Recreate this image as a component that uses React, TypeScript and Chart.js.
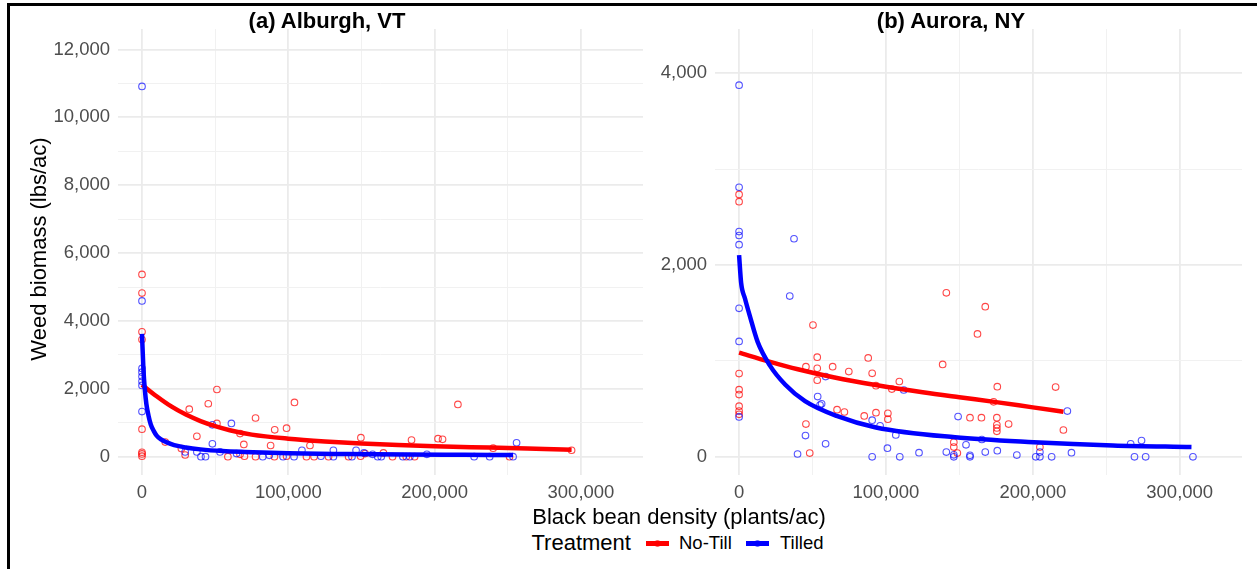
import React, { useEffect, useRef } from "react";
import { Chart, registerables } from "chart.js";

Chart.register(...registerables);

// ---------------- data ----------------
const panelTitles = ["(a) Alburgh, VT", "(b) Aurora, NY"];
const treatments = ["No-Till", "Tilled"];
const xAxisTitle = "Black bean density (plants/ac)";
const yAxisTitle = "Weed biomass (lbs/ac)";
const legendTitle = "Treatment";

// (a) Alburgh, VT — observations
const vtNoTillX = [0, 0, 0, 0, 0, 0, 0, 0, 15900, 26900, 29500, 32300, 37500, 45300, 51200, 51200, 58700, 67000, 67000, 69600, 70000, 77600, 77600, 87900, 90700, 90500, 98800, 98800, 104200, 112400, 114800, 117600, 127500, 141200, 149600, 149400, 152500, 165000, 171200, 180600, 184200, 186300, 202300, 205400, 215900, 240000, 251200, 293600];
const vtNoTillY = [5370, 4820, 3680, 3450, 810, 130, 80, 15, 430, 240, 50, 1400, 600, 1560, 1980, 980, 0, 680, 70, 360, 15, 1140, 0, 330, 790, 0, 840, 15, 1600, 0, 330, 0, 0, 0, 560, 15, 90, 110, 0, 0, 490, 0, 530, 510, 1540, 250, 0, 190];
const vtTilledX = [0, 0, 0, 0, 0, 0, 0, 0, 29500, 37500, 40300, 43400, 48100, 48100, 53300, 61100, 64600, 82500, 87000, 96400, 103900, 109300, 122300, 130800, 130800, 143500, 146300, 151700, 157600, 161100, 163500, 178300, 183000, 194700, 227000, 237600, 253600, 256000];
const vtTilledY = [10910, 4590, 2600, 2490, 2360, 2220, 2100, 1330, 140, 140, 0, 0, 940, 380, 140, 980, 90, 0, 40, 0, 0, 190, 15, 190, 0, 0, 190, 110, 70, 0, 0, 0, 0, 70, 0, 0, 0, 410];
// (a) fitted curves
const vtNoTillFitX = [0, 10000, 20000, 30000, 40000, 50000, 60000, 75000, 100000, 125000, 150000, 175000, 200000, 225000, 250000, 275000, 293600];
const vtNoTillFitY = [2120, 1780, 1480, 1240, 1050, 900, 780, 650, 530, 450, 390, 345, 310, 280, 255, 225, 205];
const vtTilledFitX = [0, 1000, 2000, 3000, 4500, 6000, 8000, 10000, 13000, 17000, 22000, 30000, 40000, 55000, 70000, 100000, 140000, 180000, 220000, 253600];
const vtTilledFitY = [3620, 2550, 1950, 1550, 1200, 950, 760, 620, 510, 420, 340, 270, 215, 165, 138, 100, 78, 64, 55, 48];

// (b) Aurora, NY — observations
const nyNoTillX = [0, 0, 0, 0, 0, 0, 0, 0, 141100, 167600, 50300, 162300, 53200, 45500, 53200, 63700, 74700, 87900, 90600, 138600, 53200, 93200, 109100, 104000, 175800, 173300, 215500, 66700, 71700, 85200, 93200, 101300, 101300, 45500, 157200, 165000, 175500, 175500, 175500, 175500, 183500, 220800, 146200, 146200, 148600, 48100, 204800];
const nyNoTillY = [2735, 2660, 867, 700, 648, 528, 477, 443, 1709, 1565, 1373, 1281, 1038, 939, 922, 939, 888, 1031, 870, 963, 799, 741, 785, 706, 731, 573, 727, 491, 467, 426, 460, 453, 392, 341, 408, 408, 408, 334, 300, 265, 341, 279, 152, 101, 39, 39, 101];
const nyTilledX = [0, 0, 0, 0, 0, 0, 0, 0, 37400, 34500, 58900, 112100, 53500, 56200, 55100, 90600, 96000, 45200, 106700, 149100, 223500, 165300, 154500, 146200, 146200, 141100, 157200, 157200, 167600, 175800, 189100, 202000, 204800, 204800, 212800, 226300, 266600, 274000, 269200, 276800, 309000, 39800, 58900, 90600, 101000, 109400, 122500];
const nyTilledY = [3874, 2810, 2348, 2307, 2211, 1548, 1203, 416, 2273, 1675, 836, 696, 628, 552, 539, 382, 323, 221, 228, 419, 477, 180, 125, 20, 0, 49, 15, 0, 49, 64, 18, 0, 0, 49, 0, 43, 135, 169, 0, 0, 0, 29, 135, 0, 90, 0, 43];
// (b) fitted curves
const nyNoTillFitX = [0, 20000, 40000, 65000, 93000, 125000, 150000, 175000, 200000, 220800];
const nyNoTillFitY = [1086, 995, 912, 826, 748, 672, 620, 570, 515, 470];
const nyTilledFitX = [0, 1400, 4000, 7300, 12700, 20800, 31500, 44900, 66400, 93200, 147000, 200700, 254500, 308000];
const nyTilledFitY = [2102, 1811, 1650, 1469, 1195, 956, 751, 580, 426, 306, 203, 152, 118, 101];

// axis ranges and ticks (major ticks are labelled, minor ticks only draw grid)
const xRange = [-16400, 342400];
const vtYRange = [-540, 12600];
const nyYRange = [-190, 4459];
const xTicks = [0, 50000, 100000, 150000, 200000, 250000, 300000];
const xLabelledTicks = [0, 100000, 200000, 300000];
const vtYTicks = [0, 1000, 2000, 3000, 4000, 5000, 6000, 7000, 8000, 9000, 10000, 11000, 12000];
const vtYLabelledTicks = [0, 2000, 4000, 6000, 8000, 10000, 12000];
const nyYTicks = [0, 1000, 2000, 3000, 4000];
const nyYLabelledTicks = [0, 2000, 4000];

// ---------------- styles ----------------
const FONT = "'Liberation Sans', Arial, Helvetica, sans-serif";
const RED = "#ff0000";
const BLUE = "#0000ff";
const RED_PT = "rgba(255,0,0,0.72)";
const BLUE_PT = "rgba(0,0,255,0.68)";
const TICK_COLOR = "#4d4d4d";

const toPoints = (xs: number[], ys: number[]) => xs.map((x, i) => ({ x, y: ys[i] }));
const fmt = (v: number) => String(Math.round(v)).replace(/\B(?=(\d{3})+(?!\d))/g, ",");

type PanelSpec = {
  left: number;
  width: number;
  yAxisWidth: number;
  padRight: number;
  yRange: number[];
  yTicks: number[];
  yLabelled: number[];
  noTill: [number[], number[]];
  tilled: [number[], number[]];
  noTillFit: [number[], number[]];
  tilledFit: [number[], number[]];
};

const TOP = 10;
const HEIGHT = 505;

function Panel({ spec }: { spec: PanelSpec }) {
  const ref = useRef<HTMLCanvasElement>(null);
  useEffect(() => {
    const isMajor = (ctx: any, labelled: number[]) => ctx.tick && labelled.includes(ctx.tick.value);
    const chart = new Chart(ref.current as HTMLCanvasElement, {
      type: "scatter",
      data: {
        datasets: [
          {
            type: "line",
            label: treatments[1] + " fit",
            data: toPoints(spec.tilledFit[0], spec.tilledFit[1]),
            borderColor: BLUE,
            backgroundColor: BLUE,
            borderWidth: 4.5,
            pointRadius: 0,
            fill: false,
            cubicInterpolationMode: "monotone",
            order: 0,
          } as any,
          {
            type: "line",
            label: treatments[0] + " fit",
            data: toPoints(spec.noTillFit[0], spec.noTillFit[1]),
            borderColor: RED,
            backgroundColor: RED,
            borderWidth: 4.5,
            pointRadius: 0,
            fill: false,
            cubicInterpolationMode: "monotone",
            order: 1,
          } as any,
          {
            label: treatments[1],
            data: toPoints(spec.tilled[0], spec.tilled[1]),
            pointStyle: "circle",
            pointRadius: 3.3,
            pointBorderWidth: 1.1,
            borderColor: BLUE_PT,
            backgroundColor: "rgba(0,0,0,0)",
            showLine: false,
            order: 2,
          },
          {
            label: treatments[0],
            data: toPoints(spec.noTill[0], spec.noTill[1]),
            pointStyle: "circle",
            pointRadius: 3.3,
            pointBorderWidth: 1.1,
            borderColor: RED_PT,
            backgroundColor: "rgba(0,0,0,0)",
            showLine: false,
            order: 3,
          },
        ],
      },
      options: {
        responsive: false,
        animation: false,
        devicePixelRatio: 1,
        layout: { padding: { left: 0, right: spec.padRight, top: 12, bottom: 0 } },
        plugins: { legend: { display: false }, tooltip: { enabled: false } },
        scales: {
          x: {
            type: "linear",
            min: xRange[0],
            max: xRange[1],
            border: { display: false },
            grid: {
              drawTicks: false,
              color: (ctx: any) => (isMajor(ctx, xLabelledTicks) ? "#ebebeb" : "#f1f1f1"),
              lineWidth: (ctx: any) => (isMajor(ctx, xLabelledTicks) ? 1.8 : 1),
            },
            afterBuildTicks: (s: any) => {
              s.ticks = xTicks.map((v) => ({ value: v }));
            },
            ticks: {
              autoSkip: false,
              maxRotation: 0,
              padding: 7,
              color: TICK_COLOR,
              font: { family: FONT, size: 18.5 },
              callback: (v: any) => (xLabelledTicks.includes(Number(v)) ? fmt(Number(v)) : ""),
            },
            afterFit: (s: any) => {
              s.height = 40;
            },
          },
          y: {
            type: "linear",
            min: spec.yRange[0],
            max: spec.yRange[1],
            border: { display: false },
            grid: {
              drawTicks: false,
              color: (ctx: any) => (isMajor(ctx, spec.yLabelled) ? "#ebebeb" : "#f1f1f1"),
              lineWidth: (ctx: any) => (isMajor(ctx, spec.yLabelled) ? 1.8 : 1),
            },
            afterBuildTicks: (s: any) => {
              s.ticks = spec.yTicks.map((v) => ({ value: v }));
            },
            ticks: {
              autoSkip: false,
              padding: 8,
              color: TICK_COLOR,
              font: { family: FONT, size: 18.5 },
              callback: (v: any) => (spec.yLabelled.includes(Number(v)) ? fmt(Number(v)) : ""),
            },
            afterFit: (s: any) => {
              s.width = spec.yAxisWidth;
            },
          },
        },
      } as any,
    });
    return () => chart.destroy();
  }, []);
  return (
    <canvas
      ref={ref}
      width={spec.width}
      height={HEIGHT}
      style={{ position: "absolute", left: spec.left, top: TOP, width: spec.width, height: HEIGHT }}
    />
  );
}

const vtSpec: PanelSpec = {
  left: 10,
  width: 640,
  yAxisWidth: 108,
  padRight: 7,
  yRange: vtYRange,
  yTicks: vtYTicks,
  yLabelled: vtYLabelledTicks,
  noTill: [vtNoTillX, vtNoTillY],
  tilled: [vtTilledX, vtTilledY],
  noTillFit: [vtNoTillFitX, vtNoTillFitY],
  tilledFit: [vtTilledFitX, vtTilledFitY],
};

const nySpec: PanelSpec = {
  left: 655,
  width: 595,
  yAxisWidth: 60,
  padRight: 8,
  yRange: nyYRange,
  yTicks: nyYTicks,
  yLabelled: nyYLabelledTicks,
  noTill: [nyNoTillX, nyNoTillY],
  tilled: [nyTilledX, nyTilledY],
  noTillFit: [nyNoTillFitX, nyNoTillFitY],
  tilledFit: [nyTilledFitX, nyTilledFitY],
};

const textBase: React.CSSProperties = {
  position: "absolute",
  fontFamily: FONT,
  color: "#000",
  whiteSpace: "nowrap",
};

function Swatch({ left, color, pt }: { left: number; color: string; pt: string }) {
  return (
    <>
      <div style={{ position: "absolute", left, top: 540.5, width: 23, height: 5, background: color }} />
      <div
        style={{
          position: "absolute",
          left: left + 8,
          top: 539.5,
          width: 7,
          height: 7,
          boxSizing: "border-box",
          borderRadius: "50%",
          border: `1.3px solid ${pt}`,
        }}
      />
    </>
  );
}

export default function App() {
  return (
    <div
      style={{
        position: "absolute",
        left: 0,
        top: 0,
        width: 1257,
        height: 569,
        overflow: "hidden",
        background: "#fff",
      }}
    >
      <div
        style={{
          position: "absolute",
          left: 7,
          top: 3,
          width: 1300,
          height: 600,
          borderTop: "3px solid #000",
          borderLeft: "3px solid #000",
        }}
      />
      <Panel spec={vtSpec} />
      <Panel spec={nySpec} />
      {/* panel titles */}
      <div style={{ ...textBase, left: 327 - 150, width: 300, top: 8, lineHeight: "26px", fontSize: 22, fontWeight: "bold", textAlign: "center" }}>
        {panelTitles[0]}
      </div>
      <div style={{ ...textBase, left: 951 - 150, width: 300, top: 8, lineHeight: "26px", fontSize: 22, fontWeight: "bold", textAlign: "center" }}>
        {panelTitles[1]}
      </div>
      {/* y axis title */}
      <div
        style={{
          ...textBase,
          left: 39 - 200,
          top: 248.5 - 13,
          width: 400,
          lineHeight: "26px",
          fontSize: 22,
          textAlign: "center",
          transform: "rotate(-90deg)",
        }}
      >
        {yAxisTitle}
      </div>
      {/* x axis title */}
      <div style={{ ...textBase, left: 679 - 300, top: 517 - 13, width: 600, lineHeight: "26px", fontSize: 22, textAlign: "center" }}>
        {xAxisTitle}
      </div>
      {/* legend */}
      <div style={{ ...textBase, left: 531.5, top: 543 - 13, lineHeight: "26px", fontSize: 22 }}>{legendTitle}</div>
      <Swatch left={646} color={RED} pt={RED_PT} />
      <div style={{ ...textBase, left: 679, top: 543 - 12, lineHeight: "24px", fontSize: 18.5 }}>{treatments[0]}</div>
      <Swatch left={746} color={BLUE} pt={BLUE_PT} />
      <div style={{ ...textBase, left: 780, top: 543 - 12, lineHeight: "24px", fontSize: 18.5 }}>{treatments[1]}</div>
    </div>
  );
}
